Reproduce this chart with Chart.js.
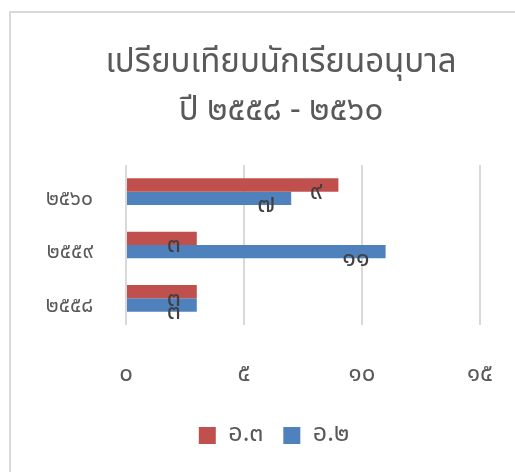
<!DOCTYPE html>
<html>
<head>
<meta charset="utf-8">
<script src="https://cdn.jsdelivr.net/npm/chart.js@4"></script>
<style>
  html, body { margin: 0; padding: 0; background: #fff; }
  #wrap { position: relative; width: 515px; height: 472px; overflow: hidden; }
  #frame { position: absolute; left: 9px; top: 11px; width: 600px; height: 600px;
           border-left: 2px solid #d9d9d9; border-top: 2px solid #d9d9d9; box-sizing: border-box; }
  canvas { position: absolute; left: 0; top: 0; }
</style>
</head>
<body>
<div id="wrap">
  <div id="frame"></div>
  <canvas id="c" width="515" height="472"></canvas>
</div>
<script>
const titleLines = ['เปรียบเทียบนักเรียนอนุบาล', 'ปี ๒๕๕๘ - ๒๕๖๐'];
const categories = ['๒๕๖๐', '๒๕๕๙', '๒๕๕๘'];
const seriesNames = ['อ.๓', 'อ.๒'];
const seriesA3 = [9, 3, 3];
const seriesA2 = [7, 11, 3];
const xTickValues = [0, 5, 10, 15];
const xTickLabels = ['๐', '๕', '๑๐', '๑๕'];

const FONT = "'Noto Sans Thai', 'Leelawadee UI', Tahoma, 'Noto Sans', sans-serif";
const thaiDigits = n => String(n).replace(/[0-9]/g, d => '๐๑๒๓๔๕๖๗๘๙'[d]);

const labelPlugin = {
  id: 'barLabels',
  afterLayout(chart) {
    const shift = (box, dx) => { if (box) { box.left += dx; box.right += dx; } };
    shift(chart.titleBlock, 41);
    shift(chart.legend, 34);
  },
  afterDatasetsDraw(chart) {
    const ctx = chart.ctx;
    ctx.save();
    ctx.font = '25px ' + FONT;
    ctx.fillStyle = '#404040';
    ctx.textAlign = 'right';
    ctx.textBaseline = 'middle';
    chart.data.datasets.forEach((ds, i) => {
      chart.getDatasetMeta(i).data.forEach((bar, j) => {
        ctx.fillText(thaiDigits(ds.data[j]), bar.x - 16, bar.y + 9);
      });
    });
    ctx.restore();
  }
};

new Chart(document.getElementById('c'), {
  type: 'bar',
  data: {
    labels: categories,
    datasets: [
      { label: seriesNames[0], data: seriesA3, backgroundColor: '#C0504D', borderWidth: 0 },
      { label: seriesNames[1], data: seriesA2, backgroundColor: '#4F81BD', borderWidth: 0 }
    ]
  },
  options: {
    indexAxis: 'y',
    responsive: false,
    animation: false,
    devicePixelRatio: 1,
    categoryPercentage: 0.5,
    barPercentage: 1.0,
    layout: { padding: { left: 0, right: 35, top: 0, bottom: 14 } },
    plugins: {
      title: {
        display: true,
        text: titleLines,
        color: '#595959',
        font: { family: FONT, size: 33, weight: 'normal', lineHeight: 1.44 },
        padding: { top: 42, bottom: 28 }
      },
      legend: {
        position: 'bottom',
        labels: {
          boxWidth: 17, boxHeight: 17, padding: 20,
          color: '#595959',
          font: { family: FONT, size: 25 }
        }
      },
      tooltip: { enabled: false }
    },
    scales: {
      x: {
        min: 0, max: 15,
        afterBuildTicks: s => { s.ticks = xTickValues.map(v => ({ value: v })); },
        ticks: {
          color: '#595959',
          font: { family: FONT, size: 24 },
          padding: 37,
          callback: (v) => xTickLabels[xTickValues.indexOf(v)]
        },
        grid: { color: '#d9d9d9', lineWidth: 2, drawTicks: false },
        border: { display: false },
        afterFit: s => { s.height = 78; s.paddingLeft = 0; s.paddingRight = 0; }
      },
      y: {
        ticks: {
          color: '#595959',
          font: { family: FONT, size: 21 },
          padding: 33,
          labelOffset: 9,
          crossAlign: 'near'
        },
        grid: { display: false, drawTicks: false },
        border: { display: false },
        afterFit: s => { s.width = 126; s.paddingTop = 0; s.paddingBottom = 0; }
      }
    }
  },
  plugins: [labelPlugin]
});
</script>
</body>
</html>
